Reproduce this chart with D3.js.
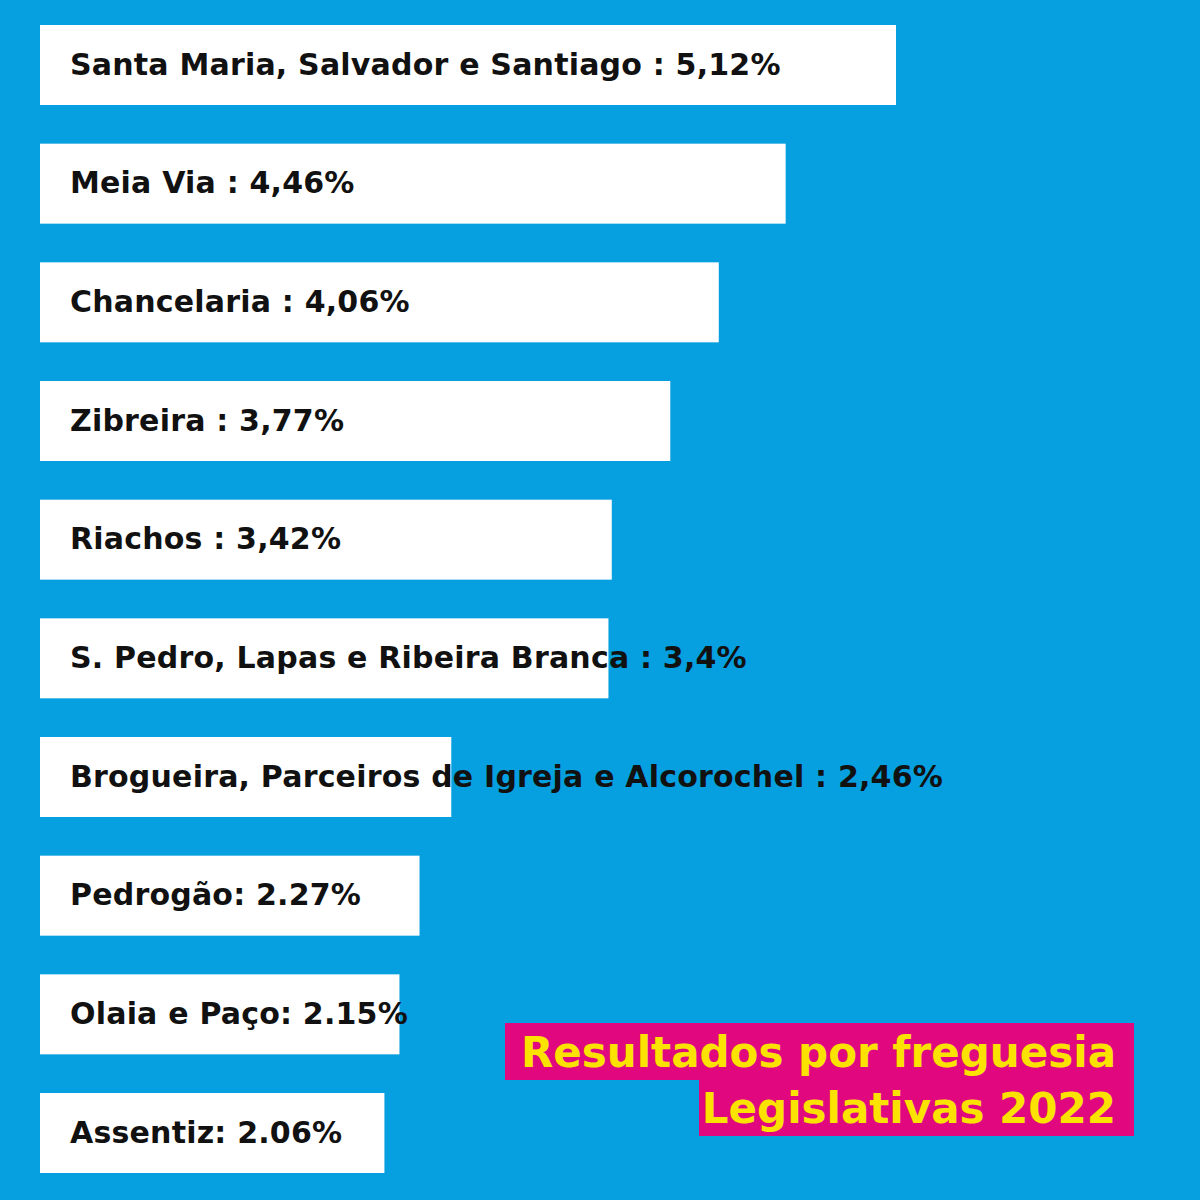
<!DOCTYPE html>
<html>
<head>
<meta charset="utf-8">
<script src="https://cdn.jsdelivr.net/npm/d3@7"></script>
<style>
  html, body { margin: 0; padding: 0; background: #069FE0; }
  svg { display: block; }
</style>
</head>
<body>
<svg id="chart" width="1200" height="1200"></svg>
<script>
const categories = [
  "Santa Maria, Salvador e Santiago",
  "Meia Via",
  "Chancelaria",
  "Zibreira",
  "Riachos",
  "S. Pedro, Lapas e Ribeira Branca",
  "Brogueira, Parceiros de Igreja e Alcorochel",
  "Pedrogão",
  "Olaia e Paço",
  "Assentiz"
];
const values = [5.12, 4.46, 4.06, 3.77, 3.42, 3.4, 2.46, 2.27, 2.15, 2.06];
const labels = [
  "Santa Maria, Salvador e Santiago : 5,12%",
  "Meia Via : 4,46%",
  "Chancelaria : 4,06%",
  "Zibreira : 3,77%",
  "Riachos : 3,42%",
  "S. Pedro, Lapas e Ribeira Branca : 3,4%",
  "Brogueira, Parceiros de Igreja e Alcorochel : 2,46%",
  "Pedrogão: 2.27%",
  "Olaia e Paço: 2.15%",
  "Assentiz: 2.06%"
];
const titleLines = ["Resultados por freguesia", "Legislativas 2022"];

const svg = d3.select("#chart");
const W = 1200, H = 1200;

svg.append("rect").attr("width", W).attr("height", H).attr("fill", "#069FE0");

const x = d3.scaleLinear().domain([0, 5.12]).range([40, 896]);
const y = d3.scaleBand().domain(categories).range([25, 1173]).paddingInner(0.326).paddingOuter(0);

const font = "'DejaVu Sans', sans-serif";

const rows = svg.append("g").selectAll("g").data(categories).join("g");

rows.append("rect")
  .attr("x", x(0))
  .attr("y", d => y(d))
  .attr("width", (d, i) => x(values[i]) - x(0))
  .attr("height", y.bandwidth())
  .attr("fill", "#FFFFFF");

rows.append("text")
  .attr("x", x(0) + 30)
  .attr("y", d => y(d) + y.bandwidth() / 2 - 1)
  .attr("dy", "0.36em")
  .attr("font-family", font)
  .attr("font-weight", 700)
  .attr("font-size", 30)
  .attr("letter-spacing", 0.2)
  .attr("fill", "#111111")
  .text((d, i) => labels[i]);

// Title boxes
const tg = svg.append("g");
const titleRight = 1134;
const lineTops = [1023, 1079];
const lineLefts = [505, 699];
tg.selectAll("rect").data(titleLines).join("rect")
  .attr("x", (d, i) => lineLefts[i])
  .attr("y", (d, i) => lineTops[i])
  .attr("width", (d, i) => titleRight - lineLefts[i])
  .attr("height", 57)
  .attr("fill", "#E0077F");
tg.selectAll("text").data(titleLines).join("text")
  .attr("x", 1116)
  .attr("y", (d, i) => lineTops[i] + 28.5)
  .attr("dy", "0.36em")
  .attr("text-anchor", "end")
  .attr("font-family", font)
  .attr("font-weight", 700)
  .attr("font-size", 42)
  .attr("fill", "#FBE200")
  .text(d => d);
</script>
</body>
</html>
